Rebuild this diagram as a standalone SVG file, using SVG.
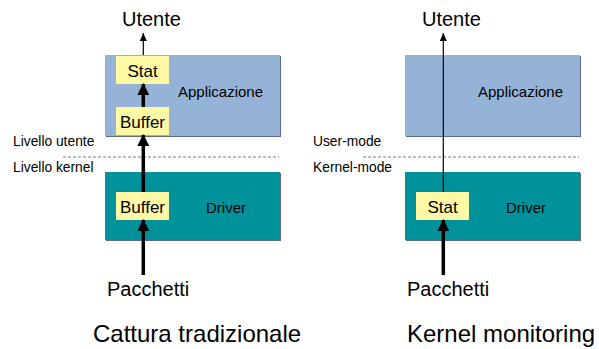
<svg xmlns="http://www.w3.org/2000/svg" width="599" height="349" viewBox="0 0 599 349">
<style>
text{font-family:"Liberation Sans",Arial,sans-serif;fill:#000}
.app{fill:#95B3D7}
.drv{fill:#00929B}
.sh{fill:#5a6a80}
.box{fill:#FFF9A6}
.big{font-size:20px}
.title{font-size:24px}
.mid{font-size:15px}
.bx{font-size:17px}
.sm{font-size:13.8px}
.thin{stroke:#000;stroke-width:1.2;fill:none}
.thick{stroke:#000;stroke-width:3.5;fill:none}
.dash{stroke:#555;stroke-width:0.8;stroke-dasharray:3 2;fill:none}
</style>
<defs>
<marker id="ah" markerUnits="userSpaceOnUse" markerWidth="12" markerHeight="12" viewBox="0 0 12 12" refX="11" refY="6" orient="auto"><path d="M0,0 L12,6 L0,12 z" fill="#000"/></marker>
<marker id="at" markerUnits="userSpaceOnUse" markerWidth="8" markerHeight="7" viewBox="0 0 8 7" refX="8" refY="3.5" orient="auto"><path d="M0,0 L8,3.5 L0,7 z" fill="#000"/></marker>
</defs>

<g id="left-app"><rect class="sh" x="106" y="56" width="175" height="81"/><rect class="app" x="105" y="55" width="175" height="81"/><text class="mid" x="178" y="97">Applicazione</text></g>
<g id="left-driver"><rect class="sh" x="106" y="173" width="175" height="68"/><rect class="drv" x="105" y="172" width="175" height="68"/><text class="mid" x="206" y="213">Driver</text></g>
<g id="left-stat"><rect class="box" x="116" y="56" width="53" height="28"/><text class="bx" x="142.5" y="77" text-anchor="middle">Stat</text></g>
<g id="left-buffer-user"><rect class="box" x="116" y="107" width="53" height="28"/><text class="bx" x="142.5" y="128" text-anchor="middle">Buffer</text></g>
<g id="left-buffer-kernel"><rect class="box" x="116" y="192" width="53" height="28"/><text class="bx" x="142.5" y="213" text-anchor="middle">Buffer</text></g>

<g id="right-app"><rect class="sh" x="406" y="56" width="175" height="81"/><rect class="app" x="405" y="55" width="175" height="81"/><text class="mid" x="478" y="97">Applicazione</text></g>
<g id="right-driver"><rect class="sh" x="406" y="173" width="175" height="68"/><rect class="drv" x="405" y="172" width="175" height="68"/><text class="mid" x="506" y="213">Driver</text></g>
<g id="right-stat"><rect class="box" x="416" y="192" width="53" height="28"/><text class="bx" x="442.5" y="213" text-anchor="middle">Stat</text></g>

<g id="labels">
<text class="big" x="122" y="26">Utente</text>
<text class="big" x="107" y="296">Pacchetti</text>
<text class="title" x="93" y="342">Cattura tradizionale</text>
<text class="sm" x="13" y="146">Livello utente</text>
<text class="sm" x="13" y="172">Livello kernel</text>
<text class="big" x="422" y="26">Utente</text>
<text class="big" x="407" y="296">Pacchetti</text>
<text class="title" x="407" y="342">Kernel monitoring</text>
<text class="sm" x="313" y="146">User-mode</text>
<text class="sm" x="313" y="172">Kernel-mode</text>
</g>

<g id="connectors">
<line class="dash" x1="63" y1="157" x2="279" y2="157"/>
<line class="dash" x1="363" y1="157" x2="579" y2="157"/>
<line class="thin" x1="143.3" y1="55" x2="143.3" y2="33" marker-end="url(#at)"/>
<line class="thick" x1="143.3" y1="107" x2="143.3" y2="84" marker-end="url(#ah)"/>
<line class="thick" x1="143.3" y1="192" x2="143.3" y2="135" marker-end="url(#ah)"/>
<line class="thick" x1="143.3" y1="275" x2="143.3" y2="220" marker-end="url(#ah)"/>
<line class="thin" x1="443.3" y1="192" x2="443.3" y2="33" marker-end="url(#at)"/>
<line class="thick" x1="443.3" y1="275" x2="443.3" y2="220" marker-end="url(#ah)"/>
</g>
</svg>
